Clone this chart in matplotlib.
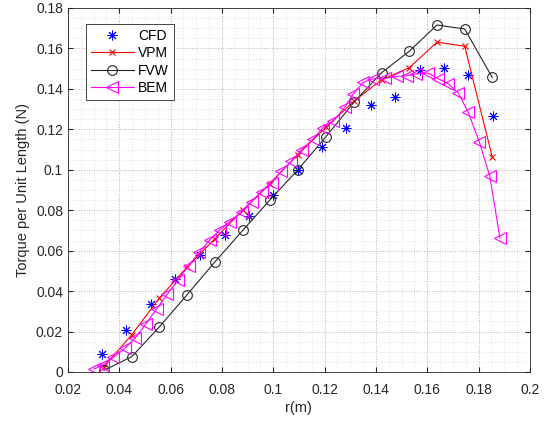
import matplotlib
matplotlib.use("Agg")
import matplotlib.pyplot as plt
from matplotlib.ticker import MultipleLocator

plt.rcParams['font.family'] = ['Liberation Sans', 'DejaVu Sans']

# data
cfd_r = [0.0331, 0.0427, 0.0523, 0.0618, 0.0714, 0.0811, 0.0905, 0.1000, 0.1096,
         0.1188, 0.1284, 0.1379, 0.1474, 0.1570, 0.1665, 0.1760, 0.1855]
cfd_t = [0.0091, 0.0210, 0.0337, 0.0462, 0.0579, 0.0676, 0.0769, 0.0873, 0.1000,
         0.1112, 0.1206, 0.1318, 0.1358, 0.1491, 0.1501, 0.1468, 0.1268]

fvw_r = [0.0340, 0.0449, 0.0556, 0.0665, 0.0773, 0.0881, 0.0987, 0.1096,
         0.1205, 0.1315, 0.1422, 0.1530, 0.1638, 0.1746, 0.1853]
fvw_t = [0.0008, 0.0076, 0.0223, 0.0383, 0.0545, 0.0700, 0.0851, 0.1000,
         0.1163, 0.1335, 0.1480, 0.1586, 0.1716, 0.1696, 0.1457]

vpm_r = fvw_r
vpm_t = [0.0026, 0.0185, 0.0365, 0.0520, 0.0660, 0.0800, 0.0932, 0.1075,
         0.1210, 0.1340, 0.1445, 0.1505, 0.1631, 0.1611, 0.1064]

bem_r = [0.0302, 0.0338, 0.0377, 0.0422, 0.0462, 0.0504, 0.0546, 0.0587, 0.0629,
         0.0670, 0.0712, 0.0753, 0.0792, 0.0831, 0.0877, 0.0916, 0.0955, 0.0994,
         0.1031, 0.1070, 0.1110, 0.1155, 0.1192, 0.1233, 0.1279, 0.1311, 0.1350,
         0.1389, 0.1435, 0.1481, 0.1520, 0.1558, 0.1604, 0.1643, 0.1682, 0.1721,
         0.1760, 0.1803, 0.1844, 0.1883]
bem_t = [0.0015, 0.0035, 0.0073, 0.0117, 0.0168, 0.0238, 0.0313, 0.0385, 0.0455,
         0.0526, 0.0592, 0.0653, 0.0703, 0.0744, 0.0793, 0.0843, 0.0892, 0.0937,
         0.0992, 0.1041, 0.1099, 0.1152, 0.1206, 0.1239, 0.1310, 0.1374, 0.1432,
         0.1450, 0.1452, 0.1462, 0.1465, 0.1475, 0.1478, 0.1450, 0.1426, 0.1379,
         0.1284, 0.1137, 0.0967, 0.0662]

x_ticks = [0.02, 0.04, 0.06, 0.08, 0.1, 0.12, 0.14, 0.16, 0.18, 0.2]
x_labels = ['0.02', '0.04', '0.06', '0.08', '0.1', '0.12', '0.14', '0.16', '0.18', '0.2']
y_ticks = [0, 0.02, 0.04, 0.06, 0.08, 0.1, 0.12, 0.14, 0.16, 0.18]
y_labels = ['0', '0.02', '0.04', '0.06', '0.08', '0.1', '0.12', '0.14', '0.16', '0.18']

fig = plt.figure(figsize=(5.48, 4.23), dpi=100)
ax = fig.add_axes([0.124, 0.1206, 0.843, 0.8605])

ax.plot(cfd_r, cfd_t, linestyle='None', marker=(8, 2, 0), color='blue', markersize=7,
        markeredgewidth=0.7, label='CFD')
ax.plot(vpm_r, vpm_t, '-', marker='x', color='red', linewidth=0.8, markersize=5,
        markeredgewidth=0.8, label='VPM')
ax.plot(fvw_r, fvw_t, '-', marker='o', color='#262626', linewidth=0.8, markersize=7,
        markerfacecolor='none', markeredgewidth=0.8, label='FVW')
ax.plot(bem_r, bem_t, '-', marker='<', color='magenta', linewidth=0.8, markersize=8,
        markerfacecolor='none', markeredgewidth=0.8, label='BEM')

ax.set_xlim(0.02, 0.2)
ax.set_ylim(0, 0.18)
ax.set_xticks(x_ticks)
ax.set_xticklabels(x_labels)
ax.set_yticks(y_ticks)
ax.set_yticklabels(y_labels)
ax.xaxis.set_minor_locator(MultipleLocator(0.005))
ax.yaxis.set_minor_locator(MultipleLocator(0.005))

ax.grid(which='major', linestyle=':', color='#b0b0b0', linewidth=0.7)
ax.grid(which='minor', linestyle=':', color='#dcdcdc', linewidth=0.6)
ax.set_axisbelow(True)
ax.tick_params(which='both', direction='in', top=True, right=True, labelsize=10,
               colors='#262626')
ax.tick_params(axis='x', pad=8)
ax.tick_params(which='minor', length=0)
for s in ax.spines.values():
    s.set_color('#262626')
    s.set_linewidth(0.6)

ax.set_xlabel('r(m)', fontsize=10.5, color='#262626', labelpad=3)
ax.set_ylabel('Torque per Unit Length (N)', fontsize=10.5, color='#262626')

leg = ax.legend(loc='upper left', bbox_to_anchor=(0.039, 0.956), fontsize=10,
                fancybox=False, edgecolor='#262626', framealpha=1,
                handlelength=3.1, handletextpad=0.3, borderpad=0.35,
                labelspacing=0.25, borderaxespad=0)
leg.get_frame().set_linewidth(0.6)

fig.savefig('out.png', dpi=100)
